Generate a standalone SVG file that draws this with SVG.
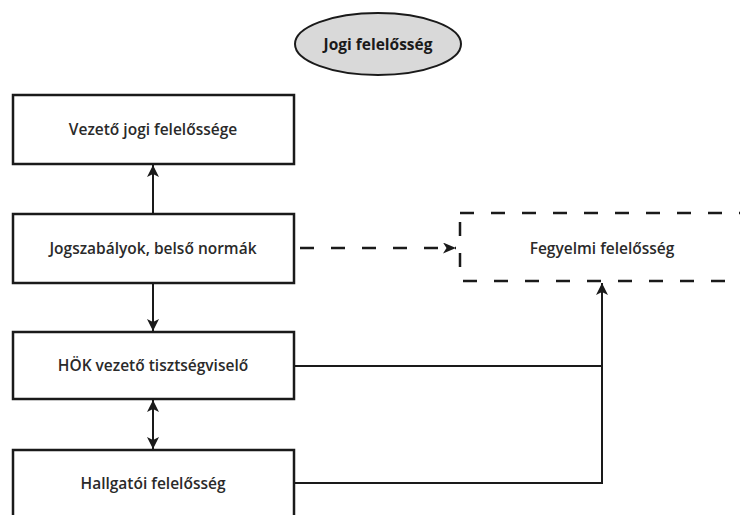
<svg xmlns="http://www.w3.org/2000/svg" width="740" height="515" viewBox="0 0 740 515">
<style>
.box{fill:#fff;stroke:#1a1a1a;stroke-width:2.5}
.dbox{fill:#fff;stroke:#1a1a1a;stroke-width:2.5;stroke-dasharray:14 17}
.lbl{font-family:"Open Sans","Liberation Sans",sans-serif;font-size:15.5px;font-weight:600;fill:#2a2a2a;text-anchor:middle;dominant-baseline:central}
.ttl{font-family:"Open Sans","Liberation Sans",sans-serif;font-size:15.5px;font-weight:bold;fill:#1a1a1a;text-anchor:middle;dominant-baseline:central}
.ln{fill:none;stroke:#1a1a1a;stroke-width:2}
.dl{fill:none;stroke:#1a1a1a;stroke-width:2.5;stroke-dasharray:14 17}
</style>
<defs>
<marker id="ah" viewBox="0 0 12 12" refX="12" refY="6" markerWidth="12" markerHeight="12" markerUnits="userSpaceOnUse" orient="auto-start-reverse">
<path d="M0,0 L12,6 L0,12 L3,6 Z" fill="#1a1a1a"/>
</marker>
<marker id="ahd" viewBox="0 0 13 11" refX="13" refY="5.5" markerWidth="13" markerHeight="11" markerUnits="userSpaceOnUse" orient="auto">
<path d="M0,0 L13,5.5 L0,11 L3.5,5.5 Z" fill="#1a1a1a"/>
</marker>
</defs>
<rect width="740" height="515" fill="#fff"/>
<g id="title">
<ellipse cx="378" cy="44" rx="83" ry="31" fill="#d9d9d9" stroke="#1a1a1a" stroke-width="2"/>
<text class="ttl" x="378" y="44">Jogi felelősség</text>
</g>
<g id="connectors">
<line class="ln" x1="153" y1="214" x2="153" y2="165" marker-end="url(#ah)"/>
<line class="ln" x1="153" y1="283" x2="153" y2="331" marker-end="url(#ah)"/>
<line class="ln" x1="153" y1="400" x2="153" y2="449" marker-start="url(#ah)" marker-end="url(#ah)"/>
<line class="dl" x1="296" y1="248" x2="456" y2="248" marker-end="url(#ahd)" stroke-dashoffset="-4"/>
<path class="ln" d="M294,366 H602"/>
<path class="ln" d="M294,483 H602 V283" marker-end="url(#ah)"/>
</g>
<g id="vezeto">
<rect class="box" x="13" y="95" width="281" height="69"/>
<text class="lbl" x="153" y="129">Vezető jogi felelőssége</text>
</g>
<g id="jogszabalyok">
<rect class="box" x="13" y="214" width="281" height="69"/>
<text class="lbl" x="153" y="248">Jogszabályok, belső normák</text>
</g>
<g id="hok">
<rect class="box" x="13" y="332" width="281" height="67"/>
<text class="lbl" x="153" y="365">HÖK vezető tisztségviselő</text>
</g>
<g id="hallgatoi">
<rect class="box" x="13" y="450" width="281" height="90"/>
<text class="lbl" x="153" y="483">Hallgatói felelősség</text>
</g>
<g id="fegyelmi">
<rect class="dbox" x="460" y="213" width="300" height="68"/>
<text class="lbl" x="602" y="248">Fegyelmi felelősség</text>
</g>
</svg>
